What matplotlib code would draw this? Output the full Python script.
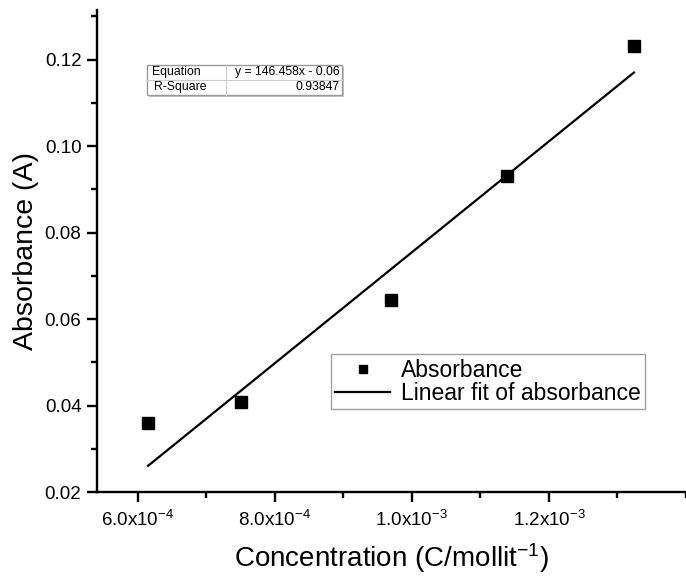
import numpy as np
import matplotlib
matplotlib.use("Agg")
import matplotlib.pyplot as plt
from matplotlib.patches import Rectangle
from matplotlib.ticker import MultipleLocator

plt.rcParams['font.family'] = ['Liberation Sans', 'DejaVu Sans']
plt.rcParams['mathtext.fontset'] = 'custom'
plt.rcParams['mathtext.rm'] = 'Liberation Sans'
plt.rcParams['mathtext.it'] = 'Liberation Sans:italic'
plt.rcParams['mathtext.bf'] = 'Liberation Sans:bold'
plt.rcParams['mathtext.default'] = 'regular'

# ---- data ----
concentration = [6.15e-4, 7.51e-4, 9.70e-4, 1.139e-3, 1.324e-3]
absorbance = [0.0360, 0.0409, 0.0644, 0.0930, 0.1231]
fit_x = [6.15e-4, 1.324e-3]
fit_y = [0.0261, 0.1170]
x_ticks = [6.0e-4, 8.0e-4, 1.0e-3, 1.2e-3]
x_tick_labels = ["6.0x10$^{-4}$", "8.0x10$^{-4}$", "1.0x10$^{-3}$", "1.2x10$^{-3}$"]
y_ticks = [0.02, 0.04, 0.06, 0.08, 0.10, 0.12]
y_tick_labels = ["0.02", "0.04", "0.06", "0.08", "0.10", "0.12"]
table_rows = [["Equation", "y = 146.458x - 0.06"], ["R-Square", "0.93847"]]

fig = plt.figure(figsize=(6.86, 5.77), dpi=100)
ax = fig.add_axes([0.141, 0.147, 0.859, 0.836])

ax.plot(concentration, absorbance, linestyle='none', marker='s', markersize=8.5,
        color='black', label='Absorbance', zorder=3)
ax.plot(fit_x, fit_y, color='black', linewidth=1.6,
        label='Linear fit of absorbance', zorder=2)

ax.set_xlim(5.4e-4, 1.4e-3)
ax.set_ylim(0.02, 0.1315)
ax.set_xticks(x_ticks)
ax.set_xticklabels(x_tick_labels)
ax.set_yticks(y_ticks)
ax.set_yticklabels(y_tick_labels)
ax.xaxis.set_minor_locator(MultipleLocator(1e-4))
ax.yaxis.set_minor_locator(MultipleLocator(0.01))

for s in ['top', 'right']:
    ax.spines[s].set_visible(False)
for s in ['left', 'bottom']:
    ax.spines[s].set_linewidth(1.7)
ax.tick_params(which='major', direction='out', length=7, width=1.7, labelsize=13.5, pad=4)
ax.tick_params(which='minor', direction='out', length=4, width=1.7)
ax.tick_params(axis='x', which='major', pad=6)

ax.set_xlabel("Concentration (C/mollit$^{-1}$)", fontsize=20, labelpad=8)
ax.set_ylabel("Absorbance (A)", fontsize=20.5, labelpad=4)

leg = ax.legend(loc='lower left', bbox_to_anchor=(0.397, 0.172), borderaxespad=0,
                fontsize=16.5, frameon=True, fancybox=False, edgecolor='#888888',
                handlelength=2.4, handletextpad=0.45, labelspacing=0.0,
                borderpad=0.2, markerscale=0.75)
leg.get_frame().set_linewidth(1.0)

# ---- result table ----
tx0, ty0, tw, th = 0.0854, 0.8238, 0.331, 0.0625
c1 = 0.405
ax.add_patch(Rectangle((tx0 + 0.003, ty0 - 0.005), tw, th, transform=ax.transAxes,
                       facecolor='#c8c8c8', edgecolor='none', zorder=4))
ax.add_patch(Rectangle((tx0, ty0), tw, th, transform=ax.transAxes,
                       facecolor='white', edgecolor='#999999', linewidth=1.0, zorder=5))
ax.plot([tx0, tx0 + tw], [ty0 + th / 2, ty0 + th / 2], transform=ax.transAxes,
        color='#cccccc', linewidth=0.8, zorder=6)
ax.plot([tx0 + tw * c1, tx0 + tw * c1], [ty0, ty0 + th], transform=ax.transAxes,
        color='#cccccc', linewidth=0.8, zorder=6)
for i, (lab, val) in enumerate(table_rows):
    yc = ty0 + th * (0.75 - 0.5 * i)
    ax.text(tx0 + 0.008 + (0.004 if i else 0), yc, lab, transform=ax.transAxes, fontsize=8.8,
            va='center', ha='left', zorder=7)
    ax.text(tx0 + tw - 0.005, yc, val, transform=ax.transAxes, fontsize=8.8,
            va='center', ha='right', zorder=7)

fig.savefig("out.png", dpi=100)
